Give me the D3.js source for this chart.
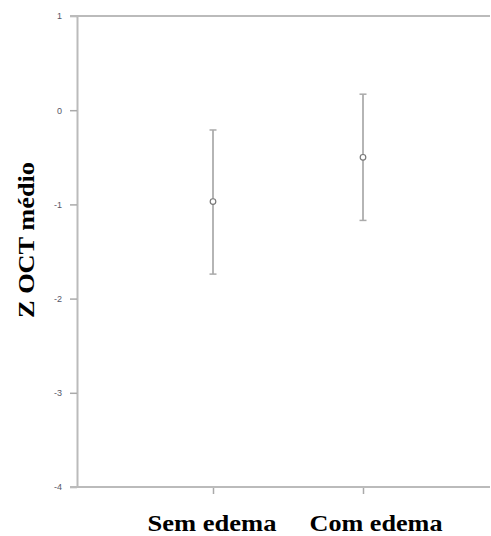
<!DOCTYPE html>
<html lang="pt">
<head>
<meta charset="utf-8">
<title>Z OCT médio</title>
<script src="https://cdn.jsdelivr.net/npm/d3@7"></script>
<style>
  body { margin: 0; background: #fff; }
  .tick text { font-family: "Liberation Sans", Arial, sans-serif; font-size: 9px; fill: #556; }
</style>
</head>
<body>
<script>
var groups = ["Sem edema", "Com edema"];
var means = [-0.97, -0.50];
var lower = [-1.74, -1.17];
var upper = [-0.21, 0.17];
var yTicks = [1, 0, -1, -2, -3, -4];

var w = 491, h = 536;
var mLeft = 77, mRight = 490, mTop = 16, mBottom = 487;

var svg = d3.select("body").append("svg")
    .attr("width", w)
    .attr("height", h);

var y = d3.scaleLinear().domain([-4, 1]).range([mBottom, mTop]);
var x = d3.scalePoint().domain(groups).range([213, 363]);

// left axis
var yAxis = svg.append("g")
    .attr("transform", "translate(" + mLeft + ",0)")
    .call(d3.axisLeft(y).tickValues(yTicks).tickSize(7).tickPadding(8).tickSizeOuter(0)
        .tickFormat(function(d) { return String(d); }));
yAxis.select(".domain").attr("stroke", "#bbb").attr("stroke-width", 2);
yAxis.selectAll(".tick line").attr("stroke", "#aaa").attr("stroke-width", 1.5);

// bottom axis
var xAxis = svg.append("g")
    .attr("transform", "translate(0," + mBottom + ")")
    .call(d3.axisBottom(x).tickSize(7).tickSizeOuter(0).tickFormat(""));
xAxis.select(".domain").remove();
xAxis.selectAll(".tick line").attr("stroke", "#aaa").attr("stroke-width", 1.5);

svg.append("line")
    .attr("x1", 70).attr("x2", mRight)
    .attr("y1", mBottom).attr("y2", mBottom)
    .attr("stroke", "#bbb").attr("stroke-width", 2);

// top frame line
svg.append("line")
    .attr("x1", 70).attr("x2", mRight)
    .attr("y1", y(1)).attr("y2", y(1))
    .attr("stroke", "#bbb").attr("stroke-width", 2);

// category labels
var labelX = [212, 376];
var labelLen = [129, 133];
svg.selectAll(".cat")
    .data(groups)
    .enter()
    .append("text")
    .attr("x", function(d, i) { return labelX[i]; })
    .attr("y", 531)
    .attr("text-anchor", "middle")
    .attr("textLength", function(d, i) { return labelLen[i]; })
    .attr("lengthAdjust", "spacingAndGlyphs")
    .style("font-family", "'Liberation Serif', 'Times New Roman', serif")
    .style("font-weight", "bold")
    .style("font-size", "23px")
    .text(function(d) { return d; });

// y title
svg.append("text")
    .attr("transform", "translate(34,240) rotate(-90)")
    .attr("text-anchor", "middle")
    .attr("textLength", 156)
    .attr("lengthAdjust", "spacingAndGlyphs")
    .style("font-family", "'Liberation Serif', 'Times New Roman', serif")
    .style("font-weight", "bold")
    .style("font-size", "23px")
    .text("Z OCT médio");

// error bars
var bars = svg.selectAll(".bar")
    .data(groups)
    .enter()
    .append("g");

bars.append("line")
    .attr("x1", function(d) { return x(d); })
    .attr("x2", function(d) { return x(d); })
    .attr("y1", function(d, i) { return y(upper[i]); })
    .attr("y2", function(d, i) { return y(lower[i]); })
    .attr("stroke", "#b5b5b5").attr("stroke-width", 2);

bars.append("line")
    .attr("x1", function(d) { return x(d) - 3.5; })
    .attr("x2", function(d) { return x(d) + 3.5; })
    .attr("y1", function(d, i) { return y(upper[i]); })
    .attr("y2", function(d, i) { return y(upper[i]); })
    .attr("stroke", "#aaa").attr("stroke-width", 1.5);

bars.append("line")
    .attr("x1", function(d) { return x(d) - 3.5; })
    .attr("x2", function(d) { return x(d) + 3.5; })
    .attr("y1", function(d, i) { return y(lower[i]); })
    .attr("y2", function(d, i) { return y(lower[i]); })
    .attr("stroke", "#aaa").attr("stroke-width", 1.5);

bars.append("circle")
    .attr("cx", function(d) { return x(d); })
    .attr("cy", function(d, i) { return y(means[i]); })
    .attr("r", 2.8)
    .attr("fill", "#fff")
    .attr("stroke", "#777")
    .attr("stroke-width", 1.2);
</script>
</body>
</html>
